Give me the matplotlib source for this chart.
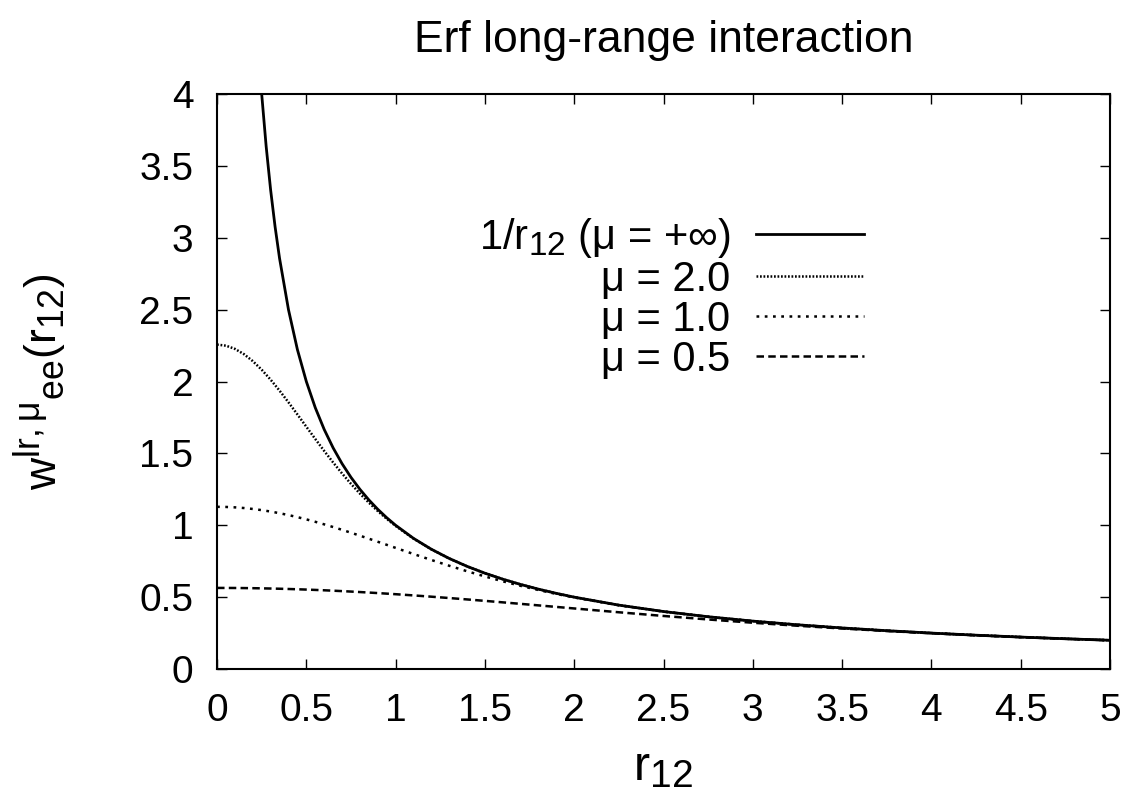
import numpy as np
import matplotlib
matplotlib.use("Agg")
import matplotlib.pyplot as plt
import matplotlib._mathtext as mtext

# gnuplot-like sub/superscripts: 0.8 instead of 0.7
mtext.SHRINK_FACTOR = 0.8

plt.rcParams['font.family'] = ['Liberation Sans', 'DejaVu Sans']
plt.rcParams['mathtext.fontset'] = 'custom'
plt.rcParams['mathtext.rm'] = 'Liberation Sans'
plt.rcParams['mathtext.it'] = 'Liberation Sans'
plt.rcParams['mathtext.default'] = 'regular'

# r12 grid shared by the finite-mu curves
r = [0, 0.05, 0.1, 0.15, 0.2, 0.25, 0.3, 0.35, 0.4, 0.45, 0.5, 0.55, 0.6, 0.65, 0.7,
     0.75, 0.8, 0.85, 0.9, 0.95, 1.0, 1.1, 1.2, 1.3, 1.4, 1.5, 1.6, 1.7, 1.8, 1.9, 2.0,
     2.25, 2.5, 2.75, 3.0, 3.25, 3.5, 3.75, 4.0, 4.25, 4.5, 4.75, 5.0]

w_mu2 = [2.25676, 2.24926, 2.22703, 2.19085, 2.14196, 2.08200, 2.01285, 1.93657, 1.85525,
         1.77091, 1.68540, 1.60037, 1.51719, 1.43694, 1.36041, 1.28814, 1.22044, 1.15740,
         1.09899, 1.04504, 0.99532, 0.90740, 0.83276, 0.76905, 0.71423, 0.66665, 0.62500,
         0.58824, 0.55556, 0.52632, 0.50000, 0.44444, 0.40000, 0.36364, 0.33333, 0.30769,
         0.28571, 0.26667, 0.25000, 0.23529, 0.22222, 0.21053, 0.20000]

w_mu1 = [1.12838, 1.12744, 1.12463, 1.11997, 1.11352, 1.10530, 1.09542, 1.08395, 1.07098,
         1.05663, 1.04100, 1.02422, 1.00643, 0.98774, 0.96829, 0.94821, 0.92763, 0.90667,
         0.88545, 0.86410, 0.84270, 0.80019, 0.75860, 0.71847, 0.68020, 0.64407, 0.61022,
         0.57870, 0.54950, 0.52252, 0.49766, 0.44379, 0.39984, 0.36360, 0.33333, 0.30769,
         0.28571, 0.26667, 0.25000, 0.23529, 0.22222, 0.21053, 0.20000]

w_mu05 = [0.56419, 0.56406, 0.56372, 0.56313, 0.56232, 0.56126, 0.55999, 0.55849, 0.55676,
          0.55481, 0.55265, 0.55028, 0.54771, 0.54494, 0.54197, 0.53882, 0.53549, 0.53197,
          0.52831, 0.52448, 0.52050, 0.51211, 0.50321, 0.49387, 0.48414, 0.47410, 0.46381,
          0.45333, 0.44273, 0.43205, 0.42135, 0.39484, 0.36916, 0.34479, 0.32204, 0.30106,
          0.28191, 0.26453, 0.24883, 0.23467, 0.22190, 0.21036, 0.19992]

# Coulomb curve, starts where it enters the plot
r_inf = [0.25, 0.275, 0.3, 0.325, 0.35, 0.4, 0.45, 0.5, 0.55, 0.6, 0.65, 0.7, 0.75, 0.8,
         0.85, 0.9, 0.95, 1.0, 1.1, 1.2, 1.3, 1.4, 1.5, 1.6, 1.7, 1.8, 1.9, 2.0, 2.25, 2.5,
         2.75, 3.0, 3.25, 3.5, 3.75, 4.0, 4.25, 4.5, 4.75, 5.0]
w_inf = [4.0, 3.63636, 3.33333, 3.07692, 2.85714, 2.5, 2.22222, 2.0, 1.81818, 1.66667,
         1.53846, 1.42857, 1.33333, 1.25, 1.17647, 1.11111, 1.05263, 1.0, 0.90909, 0.83333,
         0.76923, 0.71429, 0.66667, 0.625, 0.58824, 0.55556, 0.52632, 0.5, 0.44444, 0.4,
         0.36364, 0.33333, 0.30769, 0.28571, 0.26667, 0.25, 0.23529, 0.22222, 0.21053, 0.2]

labels = [r'$1/r_{12}$ (μ = +∞)', 'μ = 2.0', 'μ = 1.0', 'μ = 0.5']

fig = plt.figure(figsize=(11.31, 8.02), dpi=100)
ax = fig.add_axes([0.1919, 0.1658, 0.7895, 0.717])

ax.plot(r_inf, w_inf, color='black', lw=2.0, ls='-', label=labels[0])
ax.plot(r, w_mu2, color='black', lw=1.8, ls=(0, (0.7, 0.7)), label=labels[1])
ax.plot(r, w_mu1, color='black', lw=1.8, ls=(0, (1.1, 2.2)), label=labels[2])
ax.plot(r, w_mu05, color='black', lw=1.8, ls=(0, (3.0, 1.7)), label=labels[3])

ax.set_xlim(0, 5)
ax.set_ylim(0, 4)
ax.set_xticks(np.arange(0, 5.01, 0.5))
ax.set_yticks(np.arange(0, 4.01, 0.5))
ax.set_xticklabels(['0', '0.5', '1', '1.5', '2', '2.5', '3', '3.5', '4', '4.5', '5'])
ax.set_yticklabels(['0', '0.5', '1', '1.5', '2', '2.5', '3', '3.5', '4'])
ax.tick_params(direction='in', top=True, right=True, length=7, width=1,
               labelsize=28, pad=17)
for s in ax.spines.values():
    s.set_linewidth(1.5)

ax.set_title('Erf long-range interaction', fontsize=32, pad=30)
ax.set_xlabel(r'$r_{12}$', fontsize=35, labelpad=12)
ax.set_ylabel(r'$w^{lr,μ}{}_{ee}(r_{12})$', fontsize=32, labelpad=50)

ax.legend(loc='upper right', bbox_to_anchor=(0.725, 0.788), frameon=False, markerfirst=False,
          fontsize=30, handlelength=2.6, handletextpad=0.62, labelspacing=0.0,
          borderpad=0, borderaxespad=0)

fig.savefig('out.png', dpi=100)
